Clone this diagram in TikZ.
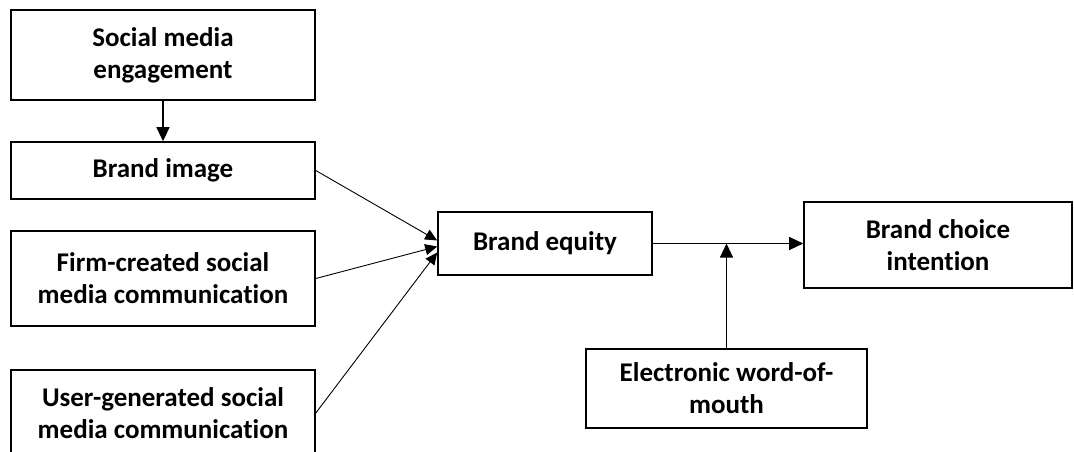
\documentclass[tikz,border=0pt]{standalone}
\usepackage{fontspec}
\setmainfont{Carlito}[Ligatures=NoCommon]
\usetikzlibrary{arrows.meta,calc}
\begin{document}
\begin{tikzpicture}[x=1pt,y=-1pt,
  box/.style={draw,line width=1.6pt,rectangle,inner sep=0pt,align=center,
    font=\bfseries\fontsize{27}{32}\selectfont},
  conn/.style={line width=1.1pt,-{Triangle[length=14pt,width=13pt]}},
  conv/.style={line width=0.9pt,-{Triangle[length=12pt,width=11pt]}}]
\useasboundingbox (0,0) rectangle (1074,451);
\node[box,minimum width=304pt,minimum height=90pt] (sme) at (163,55) {Social media\\engagement};
\node[box,minimum width=304pt,minimum height=57pt] (bi) at (163,170.5) {Brand image};
\node[box,minimum width=304pt,minimum height=95pt] (fc) at (163,278.5) {Firm-created social\\media communication};
\node[box,minimum width=304pt,minimum height=86pt] (ug) at (163,413) {User-generated social\\media communication};
\node[box,minimum width=214pt,minimum height=63pt] (be) at (545,243.5) {Brand equity};
\node[box,minimum width=268pt,minimum height=86pt] (bci) at (938,245) {Brand choice\\intention};
\node[box,minimum width=281pt,minimum height=79pt] (ew) at (726.5,388.5) {Electronic word-of-\\mouth};
\draw[conn] (sme.south) -- (bi.north);
\draw[conv] (bi.east) -- ($(be.west)+(0,-3)$);
\draw[conv] (fc.east) -- ($(be.west)+(0,3)$);
\draw[conv] (ug.east) -- ($(be.west)+(0,9)$);
\draw[conn] (be.east) -- (be.east -| bci.west);
\coordinate (m) at (ew.north |- be.east);
\draw[conn] (ew.north) -- (m);
\end{tikzpicture}
\end{document}
